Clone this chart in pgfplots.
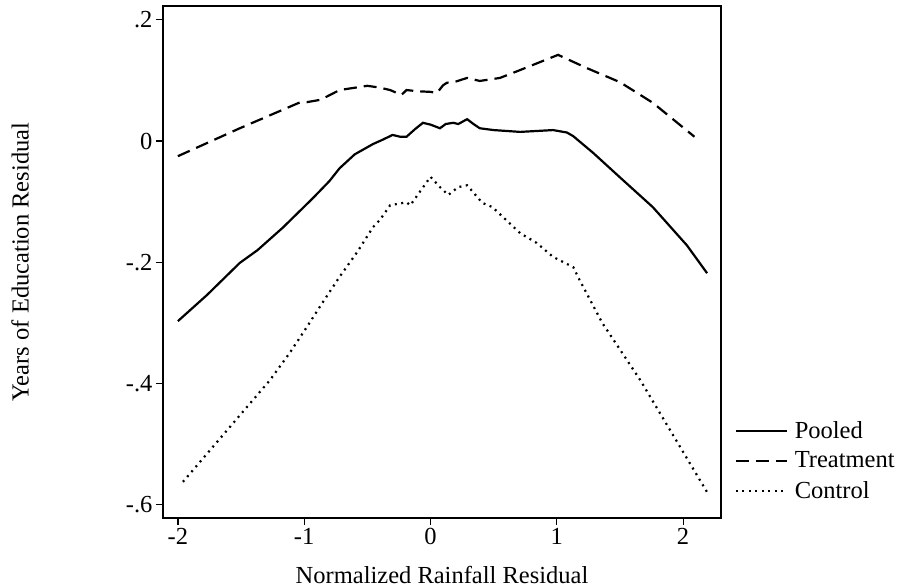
\documentclass[border=0pt]{standalone}
\usepackage{fontspec}
\setmainfont{Liberation Serif}
\usepackage{pgfplots}
\pgfplotsset{compat=1.18}

\begin{document}
\begin{tikzpicture}[font=\fontsize{24.5}{29}\selectfont]
\begin{axis}[
    name=ax,
    scale only axis,
    width=558pt, height=512pt,
    xmin=-2.118, xmax=2.30,
    ymin=-0.6216, ymax=0.2226,
    axis line style={line width=1.3pt},
    tick pos=left, tick align=outside,
    major tick length=7pt,
    tick style={line width=1.2pt, black},
    xtick={-2,-1,0,1,2},
    xticklabels={-2,-1,0,1,2},
    ytick={-0.6,-0.4,-0.2,0,0.2},
    yticklabels={-.6,-.4,-.2,0,.2},
    xlabel={Normalized Rainfall Residual},
    ylabel={Years of Education Residual},
    every axis x label/.style={at={(axis description cs:0.5,-0.112)}, anchor=center},
    every axis y label/.style={at={(axis description cs:-0.256,0.5)}, anchor=center, rotate=90},
    legend style={draw=none, fill=none, at={(1.019,0.197)}, anchor=north west,
        row sep=8pt, column sep=5pt, cells={anchor=west}},
    legend image code/.code={\draw[#1, line width=2pt] (0pt,0pt) -- (51pt,0pt);},
]
\addplot[black, line width=2.2pt] coordinates {
(-2.00,-0.297) (-1.77,-0.254) (-1.51,-0.201) (-1.37,-0.180) (-1.17,-0.143)
(-0.93,-0.094) (-0.80,-0.066) (-0.72,-0.045) (-0.60,-0.022) (-0.455,-0.005)
(-0.38,0.002) (-0.30,0.010) (-0.24,0.007) (-0.19,0.007) (-0.12,0.020)
(-0.06,0.030) (0.00,0.027) (0.075,0.021) (0.12,0.028) (0.18,0.030)
(0.22,0.028) (0.29,0.036) (0.34,0.028) (0.39,0.021) (0.50,0.018)
(0.71,0.015) (0.97,0.018) (1.08,0.014) (1.13,0.008) (1.29,-0.020) (1.50,-0.060)
(1.76,-0.109) (2.03,-0.172) (2.19,-0.218)
};
\addlegendentry{Pooled}
\addplot[black, line width=2.2pt, dash pattern=on 13pt off 7pt] coordinates {
(-2.00,-0.025) (-1.51,0.021) (-1.03,0.064) (-0.98,0.064) (-0.87,0.068)
(-0.72,0.084) (-0.50,0.091) (-0.40,0.088) (-0.32,0.084) (-0.23,0.076)
(-0.19,0.084) (-0.10,0.082) (0.00,0.081) (0.05,0.079) (0.10,0.092)
(0.13,0.096) (0.20,0.098) (0.29,0.104) (0.39,0.099) (0.55,0.104)
(0.71,0.117) (1.01,0.142) (1.24,0.120) (1.50,0.097) (1.76,0.063)
(2.09,0.007)
};
\addlegendentry{Treatment}
\addplot[black, line width=2.2pt, dash pattern=on 2pt off 4.5pt] coordinates {
(-1.96,-0.562) (-1.27,-0.394) (-1.11,-0.348) (-0.98,-0.307) (-0.85,-0.265)
(-0.72,-0.224) (-0.58,-0.183) (-0.455,-0.142) (-0.40,-0.130) (-0.32,-0.106)
(-0.19,-0.101) (-0.16,-0.106) (0.00,-0.059) (0.07,-0.075) (0.14,-0.089)
(0.22,-0.076) (0.29,-0.073) (0.41,-0.102) (0.49,-0.109) (0.71,-0.152)
(0.84,-0.168) (0.97,-0.191) (1.13,-0.208) (1.18,-0.229) (1.36,-0.300)
(1.66,-0.394) (2.19,-0.579)
};
\addlegendentry{Control}
\end{axis}
\pgfresetboundingbox
\path[use as bounding box] ([shift={(-163pt,-70pt)}]ax.south west) rectangle ++(898pt,588pt);
\end{tikzpicture}
\end{document}
